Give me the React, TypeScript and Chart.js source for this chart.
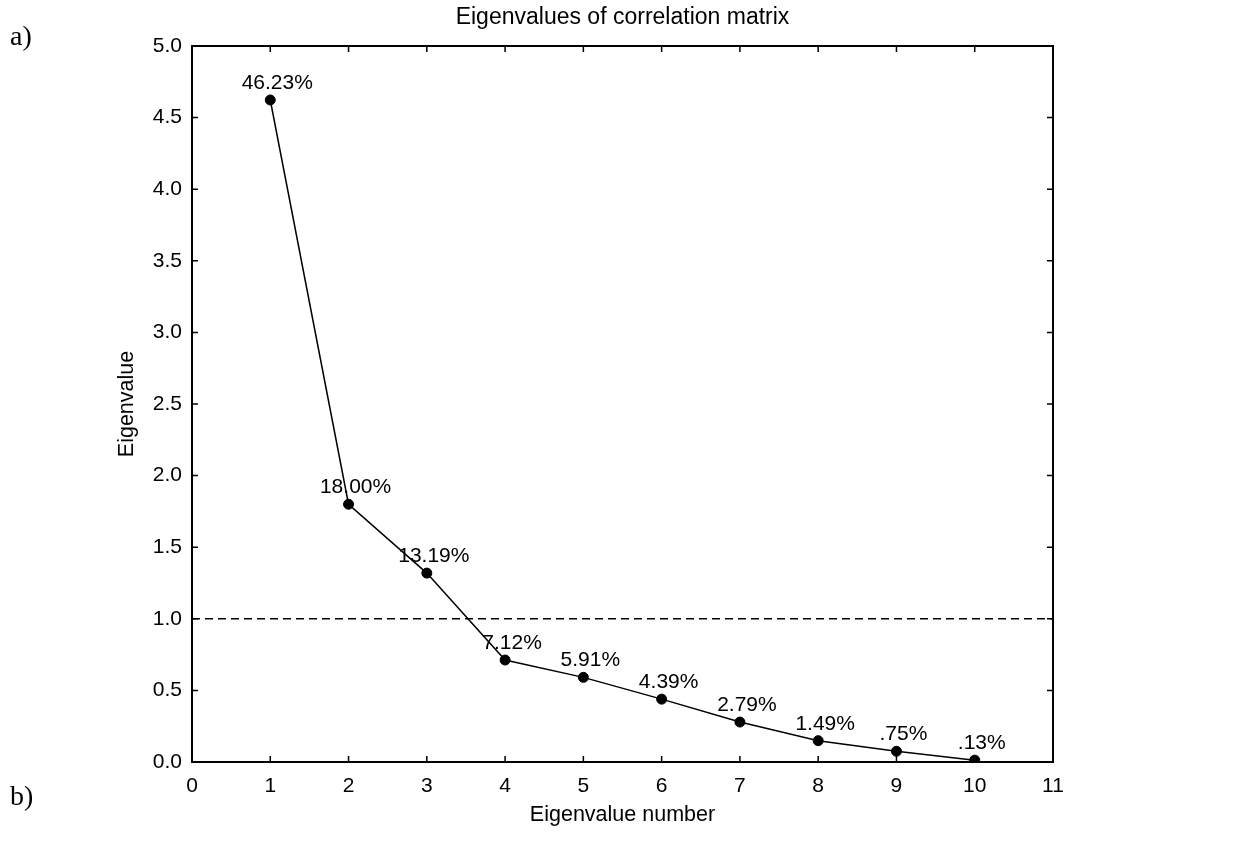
import React, { useEffect, useRef } from 'react';
import { Chart, registerables } from 'chart.js';

Chart.register(...registerables);

const eigenNumbers = [1, 2, 3, 4, 5, 6, 7, 8, 9, 10];
const eigenValues = [4.623, 1.8, 1.319, 0.712, 0.591, 0.439, 0.279, 0.149, 0.075, 0.013];
const percentLabels = ['46.23%', '18.00%', '13.19%', '7.12%', '5.91%', '4.39%', '2.79%', '1.49%', '.75%', '.13%'];
const thresholdX = [0, 11];
const thresholdY = [1.0, 1.0];
const xRange = [0, 11];
const yRange = [0, 5];

const chartTitle = 'Eigenvalues of correlation matrix';
const xTitle = 'Eigenvalue number';
const yTitle = 'Eigenvalue';
const panelLabels = ['a)', 'b)'];

const SANS = "'Liberation Sans', Arial, sans-serif";
const SERIF = "'Liberation Serif', 'Times New Roman', serif";

const framePlugin = {
  id: 'frameTicks',
  afterDatasetsDraw(chart: any) {
    const { ctx, chartArea } = chart;
    const { left, right, top, bottom } = chartArea;
    const xs = chart.scales.x;
    const ys = chart.scales.y;
    const tl = 6;
    ctx.save();
    ctx.strokeStyle = '#000';
    ctx.lineWidth = 1.5;
    ctx.beginPath();
    xs.ticks.forEach((t: any) => {
      const px = xs.getPixelForValue(t.value);
      ctx.moveTo(px, bottom);
      ctx.lineTo(px, bottom - tl);
      ctx.moveTo(px, top);
      ctx.lineTo(px, top + tl);
    });
    ys.ticks.forEach((t: any) => {
      const py = ys.getPixelForValue(t.value);
      ctx.moveTo(left, py);
      ctx.lineTo(left + tl, py);
      ctx.moveTo(right, py);
      ctx.lineTo(right - tl, py);
    });
    ctx.stroke();
    ctx.lineWidth = 2;
    ctx.strokeRect(left, top, right - left, bottom - top);
    ctx.restore();
  },
};

const pointLabelPlugin = {
  id: 'pointLabels',
  afterDatasetsDraw(chart: any) {
    const { ctx } = chart;
    const meta = chart.getDatasetMeta(0);
    ctx.save();
    ctx.fillStyle = '#000';
    ctx.font = `21px ${SANS}`;
    ctx.textAlign = 'center';
    ctx.textBaseline = 'alphabetic';
    meta.data.forEach((el: any, i: number) => {
      ctx.fillText(percentLabels[i], el.x + 7, el.y - 11);
    });
    ctx.restore();
  },
};

const panelLabelPlugin = {
  id: 'panelLabels',
  afterDraw(chart: any) {
    const { ctx } = chart;
    ctx.save();
    ctx.fillStyle = '#000';
    ctx.font = `28px ${SERIF}`;
    ctx.textAlign = 'left';
    ctx.textBaseline = 'middle';
    ctx.fillText(panelLabels[0], 10, 38);
    ctx.fillText(panelLabels[1], 10, 798);
    ctx.restore();
  },
};

export default function App() {
  const canvasRef = useRef<HTMLCanvasElement | null>(null);

  useEffect(() => {
    const canvas = canvasRef.current;
    if (!canvas) return;
    const chart = new Chart(canvas, {
      type: 'scatter',
      data: {
        datasets: [
          {
            data: eigenNumbers.map((n, i) => ({ x: n, y: eigenValues[i] })),
            showLine: true,
            borderColor: '#000',
            borderWidth: 1.5,
            backgroundColor: '#000',
            pointBackgroundColor: '#000',
            pointBorderColor: '#000',
            pointRadius: 5,
            pointBorderWidth: 1,
          },
          {
            data: thresholdX.map((x, i) => ({ x, y: thresholdY[i] })),
            showLine: true,
            borderColor: '#000',
            borderWidth: 1.5,
            borderDash: [8, 5],
            pointRadius: 0,
          },
        ],
      },
      options: {
        animation: false,
        responsive: false,
        devicePixelRatio: 1,
        layout: { padding: { left: 100, right: 180, top: 0, bottom: 0 } },
        plugins: {
          legend: { display: false },
          tooltip: { enabled: false },
          title: {
            display: true,
            text: chartTitle,
            fullSize: false,
            color: '#000',
            font: { family: SANS, size: 23, weight: 'normal' },
            padding: { top: 4, bottom: 14.4 },
          },
        },
        scales: {
          x: {
            type: 'linear',
            min: xRange[0],
            max: xRange[1],
            grid: { display: false, drawTicks: false, tickLength: 0 },
            border: { display: false },
            ticks: {
              stepSize: 1,
              color: '#000',
              font: { family: SANS, size: 21 },
              padding: 12,
              maxRotation: 0,
              autoSkip: false,
            },
            title: {
              display: true,
              text: xTitle,
              color: '#000',
              font: { family: SANS, size: 21.5 },
              padding: { top: 4, bottom: 17 },
            },
            afterFit: (scale: any) => {
              scale.height = 83;
            },
          },
          y: {
            type: 'linear',
            min: yRange[0],
            max: yRange[1],
            grid: { display: false, drawTicks: false, tickLength: 0 },
            border: { display: false },
            ticks: {
              stepSize: 0.5,
              color: '#000',
              font: { family: SANS, size: 21 },
              padding: 10,
              callback: (v: any) => Number(v).toFixed(1),
            },
            title: {
              display: true,
              text: yTitle,
              color: '#000',
              font: { family: SANS, size: 21.5 },
              padding: { top: 14, bottom: 4 },
            },
            afterFit: (scale: any) => {
              scale.width = 92;
            },
          },
        },
      },
      plugins: [framePlugin, pointLabelPlugin, panelLabelPlugin],
    });
    return () => chart.destroy();
  }, []);

  return (
    <div style={{ position: 'fixed', left: 0, top: 0, width: 1233, height: 845, background: '#fff' }}>
      <canvas ref={canvasRef} width={1233} height={845} style={{ width: 1233, height: 845, display: 'block' }} />
    </div>
  );
}
